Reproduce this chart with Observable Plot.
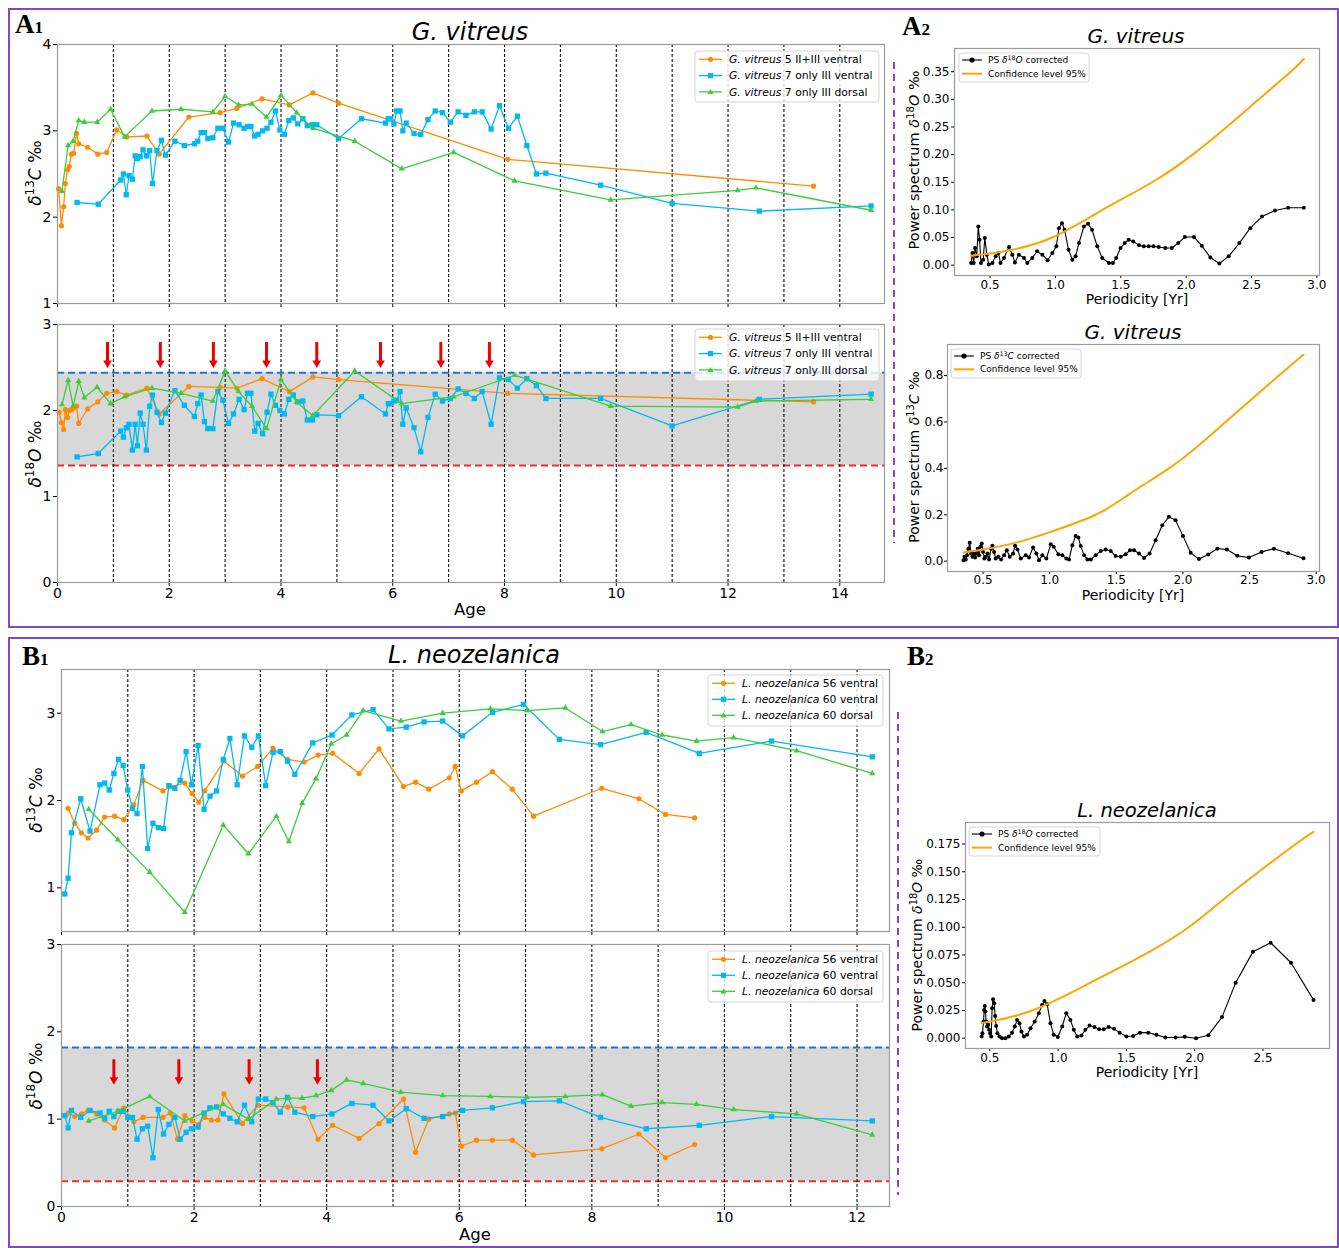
<!DOCTYPE html>
<html><head><meta charset="utf-8">
<script src="https://cdn.jsdelivr.net/npm/d3@7"></script>
<script src="https://cdn.jsdelivr.net/npm/@observablehq/plot@0.6"></script>
<style>
body{margin:0;background:#fff;}
#root{position:relative;width:1339px;height:1248px;overflow:hidden;background:#fff;}
</style></head><body><div id="root"></div>
<script>
// ---------------- DATA ----------------
// Panel A1: G. vitreus, delta13C
const gvC_orange = [[0.02,2.33],[0.07,1.90],[0.11,2.12],[0.14,2.39],[0.18,2.55],[0.21,2.59],[0.25,2.73],[0.29,2.74],[0.34,2.97],[0.38,2.85],[0.54,2.81],[0.72,2.73],[0.88,2.75],[1.06,3.01],[1.24,2.93],[1.60,2.94],[1.82,2.73],[2.35,3.16],[2.91,3.21],[3.21,3.26],[3.66,3.37],[4.15,3.30],[4.57,3.44],[5.03,3.32],[8.06,2.67],[13.53,2.36]];
const gvC_blue = [[0.35,2.17],[0.73,2.15],[1.13,2.43],[1.18,2.50],[1.23,2.26],[1.28,2.48],[1.34,2.44],[1.39,2.71],[1.43,2.68],[1.48,2.70],[1.53,2.78],[1.59,2.71],[1.65,2.77],[1.70,2.39],[1.78,2.77],[1.86,2.89],[1.93,2.72],[2.10,2.88],[2.27,2.83],[2.45,2.85],[2.51,2.88],[2.57,2.98],[2.63,2.98],[2.69,2.91],[2.78,2.92],[2.87,3.03],[2.96,3.03],[3.06,2.87],[3.15,3.09],[3.25,3.07],[3.34,3.03],[3.40,3.05],[3.46,3.05],[3.53,2.94],[3.59,2.96],[3.67,3.00],[3.75,3.03],[3.82,3.10],[3.90,3.23],[3.98,3.01],[4.06,2.96],[4.14,3.12],[4.22,3.15],[4.30,3.08],[4.39,3.14],[4.47,3.06],[4.56,3.07],[4.64,3.07],[5.03,2.91],[5.44,3.14],[5.87,3.09],[5.92,3.14],[5.96,3.14],[6.02,3.08],[6.07,3.23],[6.13,3.23],[6.18,3.00],[6.24,3.09],[6.38,2.97],[6.50,2.96],[6.63,3.13],[6.76,3.23],[6.89,3.21],[7.03,3.10],[7.17,3.22],[7.31,3.18],[7.46,3.22],[7.60,3.22],[7.76,3.02],[7.91,3.29],[8.07,3.03],[8.23,3.17],[8.40,2.83],[8.57,2.50],[8.74,2.51],[9.72,2.37],[11.0,2.16],[12.56,2.07],[14.56,2.13]];
const gvC_green = [[0.08,2.30],[0.19,2.83],[0.28,2.88],[0.38,3.12],[0.48,3.10],[0.71,3.10],[0.95,3.25],[1.20,2.93],[1.69,3.23],[2.21,3.25],[2.78,3.22],[3.00,3.40],[3.24,3.30],[3.48,3.31],[3.74,3.16],[4.00,3.41],[4.28,3.21],[4.57,3.03],[5.32,2.88],[6.16,2.56],[7.09,2.75],[8.18,2.42],[9.90,2.20],[12.17,2.31],[12.50,2.34],[14.56,2.08]];
// Panel A1: G. vitreus, delta18O
const gvO_orange = [[0.03,1.98],[0.07,1.86],[0.11,1.78],[0.14,2.01],[0.18,1.92],[0.21,2.00],[0.25,2.01],[0.29,2.03],[0.34,2.05],[0.38,1.85],[0.54,2.02],[0.72,2.10],[0.88,2.20],[1.06,2.22],[1.24,2.18],[1.60,2.26],[1.82,1.96],[2.35,2.28],[2.91,2.27],[3.21,2.26],[3.66,2.37],[4.15,2.22],[4.57,2.39],[5.03,2.36],[8.06,2.20],[13.53,2.10]];
const gvO_blue = [[0.35,1.46],[0.73,1.50],[1.13,1.76],[1.18,1.69],[1.23,1.80],[1.28,1.84],[1.34,1.54],[1.39,1.84],[1.43,1.59],[1.48,1.97],[1.53,1.84],[1.59,1.54],[1.65,2.05],[1.70,2.18],[1.78,1.98],[1.86,1.86],[1.93,1.97],[2.10,2.23],[2.27,2.06],[2.45,1.93],[2.51,2.08],[2.57,2.18],[2.63,1.87],[2.69,1.79],[2.78,1.79],[2.87,2.22],[2.96,2.12],[3.06,1.85],[3.15,1.96],[3.25,2.13],[3.34,2.01],[3.40,2.20],[3.46,2.20],[3.53,1.76],[3.59,1.85],[3.67,1.73],[3.75,1.98],[3.82,2.19],[3.90,2.06],[3.98,2.00],[4.06,1.96],[4.14,2.13],[4.22,2.18],[4.30,2.10],[4.39,2.11],[4.47,1.89],[4.56,1.89],[4.64,1.95],[5.03,1.94],[5.44,2.16],[5.87,1.96],[5.92,2.08],[5.96,2.08],[6.02,2.11],[6.07,2.12],[6.13,2.22],[6.18,1.84],[6.24,2.03],[6.38,1.80],[6.50,1.52],[6.63,1.92],[6.76,2.19],[6.89,2.11],[7.03,2.14],[7.17,2.25],[7.31,2.20],[7.46,2.14],[7.60,2.22],[7.76,1.84],[7.91,2.38],[8.07,2.36],[8.23,2.26],[8.40,2.37],[8.57,2.29],[8.74,2.14],[9.72,2.14],[11.0,1.82],[12.56,2.13],[14.56,2.19]];
const gvO_green = [[0.08,2.07],[0.19,2.35],[0.28,2.05],[0.38,2.34],[0.48,2.15],[0.71,2.27],[0.95,2.08],[1.20,2.16],[1.69,2.26],[2.21,2.20],[2.78,2.11],[3.00,2.46],[3.24,2.22],[3.48,2.05],[3.74,1.79],[4.00,2.36],[4.28,2.10],[4.57,1.94],[5.32,2.46],[6.16,2.08],[7.09,2.16],[8.18,2.41],[9.90,2.05],[12.17,2.04],[12.50,2.11],[14.56,2.13]];
// Panel B1: L. neozelanica, delta13C
const lnC_orange = [[0.10,1.91],[0.20,1.74],[0.30,1.63],[0.40,1.57],[0.53,1.66],[0.65,1.81],[0.80,1.82],[0.94,1.78],[1.09,1.95],[1.23,2.23],[1.53,2.11],[1.64,2.16],[1.86,2.20],[1.97,2.08],[2.07,1.98],[2.16,2.11],[2.45,2.45],[2.73,2.28],[2.96,2.39],[3.19,2.60],[3.41,2.47],[3.66,2.44],[3.87,2.52],[4.09,2.54],[4.49,2.31],[4.79,2.59],[5.16,2.16],[5.34,2.21],[5.54,2.13],[5.85,2.26],[5.94,2.39],[6.03,2.11],[6.26,2.21],[6.50,2.33],[6.80,2.13],[7.12,1.82],[8.15,2.14],[8.71,2.02],[9.11,1.84],[9.55,1.80]];
const lnC_blue = [[0.05,0.93],[0.10,1.11],[0.15,1.63],[0.29,2.02],[0.43,1.65],[0.58,2.18],[0.65,2.20],[0.72,2.12],[0.79,2.31],[0.86,2.47],[0.93,2.40],[1.00,2.12],[1.07,1.91],[1.14,1.85],[1.22,2.39],[1.30,1.45],[1.38,1.74],[1.46,1.69],[1.54,1.68],[1.62,2.17],[1.71,2.14],[1.79,2.23],[1.88,2.56],[1.96,2.18],[2.06,2.63],[2.15,1.90],[2.24,2.05],[2.34,2.11],[2.44,2.47],[2.54,2.71],[2.65,2.18],[2.76,2.74],[2.87,2.61],[2.97,2.74],[3.08,2.17],[3.19,2.55],[3.30,2.56],[3.41,2.45],[3.52,2.30],[3.79,2.66],[4.08,2.75],[4.38,2.98],[4.70,3.04],[4.94,2.82],[5.20,2.84],[5.47,2.90],[5.75,2.91],[6.05,2.74],[6.50,3.01],[6.97,3.10],[7.51,2.70],[8.13,2.64],[8.82,2.78],[9.62,2.54],[10.71,2.68],[12.23,2.50]];
const lnC_green = [[0.41,1.90],[0.85,1.55],[1.33,1.18],[1.86,0.72],[2.44,1.72],[2.82,1.39],[3.24,1.82],[3.43,1.53],[3.63,1.97],[3.84,2.25],[4.07,2.65],[4.30,2.75],[4.55,3.03],[5.12,2.91],[5.75,3.00],[6.47,3.05],[7.02,3.03],[7.60,3.06],[8.16,2.79],[8.59,2.87],[9.06,2.75],[9.58,2.68],[10.14,2.72],[11.09,2.57],[12.23,2.31]];
// Panel B1: L. neozelanica, delta18O
const lnO_orange = [[0.10,1.07],[0.20,1.03],[0.30,1.06],[0.40,1.10],[0.53,1.06],[0.65,0.99],[0.80,0.90],[0.94,1.13],[1.09,0.97],[1.23,1.02],[1.53,1.02],[1.64,1.07],[1.75,0.77],[1.86,1.04],[1.97,0.98],[2.07,0.94],[2.16,1.02],[2.26,0.99],[2.36,0.99],[2.45,1.29],[2.73,0.95],[2.96,1.16],[3.41,1.14],[3.66,1.13],[3.87,0.77],[4.09,0.93],[4.49,0.78],[4.79,0.95],[5.16,1.23],[5.34,0.62],[5.54,1.00],[5.85,1.06],[5.94,1.07],[6.03,0.69],[6.26,0.76],[6.50,0.76],[6.80,0.76],[7.12,0.59],[8.15,0.66],[8.71,0.83],[9.11,0.56],[9.55,0.71]];
const lnO_blue = [[0.05,1.04],[0.10,0.90],[0.15,1.10],[0.29,1.02],[0.43,1.10],[0.58,1.07],[0.65,1.01],[0.72,1.09],[0.79,1.03],[0.86,1.09],[0.93,1.09],[1.00,1.02],[1.07,1.02],[1.14,0.77],[1.22,0.89],[1.30,0.92],[1.38,0.56],[1.46,1.11],[1.54,0.83],[1.62,0.94],[1.71,1.02],[1.79,0.77],[1.88,0.85],[1.96,0.89],[2.06,0.91],[2.15,1.07],[2.24,1.13],[2.34,1.14],[2.44,1.06],[2.54,1.01],[2.65,0.97],[2.76,1.16],[2.87,0.97],[2.97,1.23],[3.08,1.23],[3.19,1.19],[3.30,1.08],[3.41,1.25],[3.52,1.08],[3.79,1.03],[4.08,1.06],[4.38,1.18],[4.70,1.16],[4.94,0.98],[5.20,1.12],[5.47,1.01],[5.75,1.03],[6.05,1.10],[6.50,1.13],[6.97,1.20],[7.51,1.21],[8.13,1.02],[8.82,0.89],[9.62,0.93],[10.71,1.03],[12.23,0.98]];
const lnO_green = [[0.41,0.98],[0.85,1.09],[1.33,1.26],[1.86,0.98],[2.44,1.17],[2.82,1.00],[3.24,1.23],[3.43,1.24],[3.63,1.24],[3.84,1.27],[4.07,1.33],[4.30,1.45],[4.55,1.41],[5.12,1.31],[5.75,1.27],[6.47,1.26],[7.02,1.25],[7.60,1.26],[8.16,1.28],[8.59,1.15],[9.06,1.19],[9.58,1.17],[10.14,1.11],[11.09,1.06],[12.23,0.82]];
// Power spectra
const psA_O18 = [[0.355,0.004],[0.365,0.022],[0.375,0.004],[0.385,0.031],[0.398,0.016],[0.41,0.070],[0.42,0.046],[0.43,0.004],[0.447,0.010],[0.46,0.049],[0.475,0.019],[0.49,0.001],[0.518,0.004],[0.543,0.016],[0.564,0.022],[0.58,0.004],[0.607,0.013],[0.645,0.033],[0.67,0.019],[0.69,0.005],[0.72,0.019],[0.76,0.013],[0.785,0.004],[0.823,0.013],[0.86,0.025],[0.90,0.019],[0.94,0.009],[0.976,0.022],[1.007,0.034],[1.027,0.067],[1.05,0.076],[1.07,0.064],[1.10,0.028],[1.13,0.010],[1.154,0.016],[1.18,0.040],[1.218,0.070],[1.25,0.075],[1.28,0.064],[1.32,0.034],[1.358,0.013],[1.41,0.004],[1.44,0.004],[1.465,0.013],[1.498,0.031],[1.53,0.040],[1.56,0.046],[1.595,0.043],[1.64,0.036],[1.676,0.034],[1.714,0.034],[1.75,0.034],[1.79,0.033],[1.84,0.031],[1.89,0.031],[1.94,0.040],[1.99,0.051],[2.06,0.051],[2.12,0.035],[2.185,0.014],[2.254,0.003],[2.325,0.016],[2.407,0.040],[2.49,0.067],[2.58,0.088],[2.68,0.099],[2.78,0.104],[2.90,0.104]];
const confA_O18 = [[0.355,0.017],[0.5,0.021],[0.67,0.028],[0.976,0.05],[1.36,0.10],[1.74,0.15],[2.05,0.20],[2.31,0.25],[2.555,0.30],[2.80,0.35],[2.90,0.373]];
const psA_C13 = [[0.353,0.004],[0.36,0.019],[0.37,0.007],[0.38,0.026],[0.39,0.054],[0.40,0.079],[0.41,0.033],[0.42,0.019],[0.43,0.033],[0.44,0.016],[0.45,0.033],[0.46,0.054],[0.47,0.026],[0.48,0.062],[0.49,0.076],[0.50,0.040],[0.51,0.011],[0.52,0.019],[0.533,0.033],[0.545,0.007],[0.56,0.054],[0.57,0.066],[0.583,0.040],[0.595,0.011],[0.615,0.019],[0.635,0.007],[0.658,0.026],[0.678,0.047],[0.70,0.019],[0.725,0.033],[0.74,0.066],[0.758,0.050],[0.783,0.011],[0.82,0.026],[0.845,0.016],[0.875,0.059],[0.90,0.033],[0.92,0.004],[0.945,0.026],[0.975,0.011],[1.008,0.073],[1.03,0.062],[1.065,0.030],[1.095,0.026],[1.125,0.011],[1.145,0.007],[1.17,0.069],[1.195,0.109],[1.215,0.102],[1.233,0.065],[1.258,0.026],[1.283,0.007],[1.308,0.007],[1.345,0.026],[1.383,0.044],[1.42,0.050],[1.458,0.044],[1.495,0.022],[1.533,0.019],[1.57,0.030],[1.603,0.047],[1.633,0.047],[1.67,0.033],[1.708,0.014],[1.75,0.033],[1.795,0.090],[1.845,0.155],[1.895,0.191],[1.945,0.176],[2.0,0.109],[2.058,0.036],[2.12,0.009],[2.19,0.029],[2.258,0.054],[2.33,0.050],[2.408,0.023],[2.495,0.016],[2.59,0.040],[2.683,0.054],[2.79,0.034],[2.905,0.013]];
const confA_C13 = [[0.353,0.037],[0.5,0.05],[0.75,0.08],[1.0,0.125],[1.345,0.2],[1.6,0.29],[1.895,0.4],[2.1,0.49],[2.32,0.6],[2.52,0.7],[2.72,0.8],[2.905,0.89]];
const psB_O18 = [[0.44,0.0015],[0.446,0.0045],[0.454,0.015],[0.459,0.0255],[0.463,0.029],[0.468,0.024],[0.473,0.015],[0.48,0.0105],[0.488,0.012],[0.495,0.0075],[0.502,0.0045],[0.51,0.0015],[0.517,0.027],[0.524,0.035],[0.532,0.0315],[0.539,0.020],[0.546,0.011],[0.556,0.0045],[0.571,0.0015],[0.59,0.0],[0.615,0.0],[0.639,0.0015],[0.663,0.005],[0.683,0.0105],[0.70,0.0165],[0.717,0.0135],[0.732,0.006],[0.749,0.0015],[0.773,0.003],[0.798,0.009],[0.829,0.015],[0.859,0.0225],[0.883,0.030],[0.90,0.0336],[0.92,0.0306],[0.944,0.0135],[0.968,0.003],[0.998,0.001],[1.03,0.0105],[1.06,0.0225],[1.09,0.0165],[1.115,0.0075],[1.14,0.0015],[1.17,0.0024],[1.20,0.0075],[1.23,0.0114],[1.266,0.010],[1.30,0.008],[1.334,0.008],[1.37,0.010],[1.41,0.0084],[1.45,0.005],[1.50,0.0015],[1.55,0.002],[1.60,0.005],[1.66,0.005],[1.72,0.003],[1.785,0.0006],[1.86,0.0006],[1.927,0.0012],[2.01,0.0],[2.10,0.0027],[2.20,0.019],[2.30,0.050],[2.427,0.078],[2.556,0.086],[2.705,0.068],[2.87,0.0345]];
const confB_O18 = [[0.44,0.0135],[0.5,0.015],[0.81,0.025],[1.237,0.05],[1.627,0.075],[1.956,0.1],[2.21,0.125],[2.47,0.15],[2.74,0.175],[2.87,0.186]];

// dashed age lines, arrows, bands, ticks
const ageLinesA = [1,2,3,4,5,6,7,8,9,10,11,12,13,14];
const ageLinesB = [1,2,3,4,5,6,7,8,9,10,11,12];
const arrowsA = [0.895,1.84,2.79,3.74,4.64,5.78,6.86,7.73];
const arrowA_top = 2.79, arrowA_tip = 2.50;
const arrowsB = [0.79,1.77,2.83,3.86];
const arrowB_top = 1.68, arrowB_tip = 1.40;
const bandA = [1.36, 2.44];
const bandB = [0.29, 1.82];
const ageTicksA = [0,2,4,6,8,10,12,14];
const ageTicksB = [0,2,4,6,8,10,12];
const yTicksA_C = [1,2,3,4];
const yTicksO = [0,1,2,3];
const yTicksB_C = [1,2,3];
const perTicks = [0.5,1.0,1.5,2.0,2.5,3.0];
const perTicksB = [0.5,1.0,1.5,2.0,2.5];
const psTicksA_O = [0,0.05,0.10,0.15,0.20,0.25,0.30,0.35];
const psTicksA_C = [0,0.2,0.4,0.6,0.8];
const psTicksB_O = [0,0.025,0.05,0.075,0.1,0.125,0.15,0.175];
const legendA = ["5 II+III ventral","7 only III ventral","7 only III dorsal"];
const legendB = ["56 ventral","60 ventral","60 dorsal"];

// ---------------- STYLE ----------------
const C_OR = "#ff8c00", C_BL = "#00b8f2", C_GR = "#3ccc3c";
const PURPLE = "#8448c6";
const root = document.getElementById("root");
const FONT = "DejaVu Sans, sans-serif";

function series(arr, color, symbol, r) {
  const d = arr.map(([x, y]) => ({x, y}));
  return [
    Plot.line(d, {x: "x", y: "y", stroke: color, strokeWidth: 1.3}),
    Plot.dot(d, {x: "x", y: "y", fill: color, symbol, r})
  ];
}
function psMarks(ps, conf) {
  const p = ps.map(([x, y]) => ({x, y})), c = conf.map(([x, y]) => ({x, y}));
  return [
    Plot.line(p, {x: "x", y: "y", stroke: "black", strokeWidth: 1.1}),
    Plot.dot(p, {x: "x", y: "y", fill: "black", r: 2}),
    Plot.line(c, {x: "x", y: "y", stroke: "#ffa500", strokeWidth: 2, curve: "natural"})
  ];
}
function arrowMarks(xs, top, tip) {
  const d = xs.map(x => ({x, top, tip}));
  return [
    Plot.ruleX(d, {x: "x", y1: "top", y2: "tip", stroke: "#ee0000", strokeWidth: 3, insetBottom: 5}),
    Plot.dot(d, {x: "x", y: "tip", symbol: "triangle", rotate: 180, fill: "#ee0000", r: 3.2, dy: -4.5})
  ];
}
function bandMarks(band) {
  return [
    Plot.rect([band], {y1: d => d[0], y2: d => d[1], fill: "#d8d8d8"}),
    Plot.ruleY([band[1]], {stroke: "#1f73d6", strokeWidth: 2, strokeDasharray: "7,4"}),
    Plot.ruleY([band[0]], {stroke: "#e8332c", strokeWidth: 2, strokeDasharray: "7,4"})
  ];
}
function chart(frame, o, marks) {
  const [x0, x1, y0, y1] = frame;
  const m = {top: 12, right: 12, bottom: 30, left: 60};
  const ts = o.ts ?? 4, tp = o.tp ?? 2;
  const svg = Plot.plot({
    width: x1 - x0 + m.left + m.right,
    height: y1 - y0 + m.top + m.bottom,
    marginTop: m.top, marginRight: m.right, marginBottom: m.bottom, marginLeft: m.left,
    style: {background: "none", overflow: "visible", fontFamily: FONT, fontSize: o.fs + "px", color: "black"},
    x: {domain: o.xDomain, ticks: o.xTicks, tickFormat: o.xFormat, label: null, tickSize: ts, tickPadding: tp},
    y: {domain: o.yDomain, ticks: o.yTicks, tickFormat: o.yFormat, label: null, tickSize: ts, tickPadding: tp},
    marks: [...marks, Plot.frame({stroke: "#9c9c9c", strokeWidth: 1.2})]
  });
  Object.assign(svg.style, {position: "absolute", left: (x0 - m.left) + "px", top: (y0 - m.top) + "px", maxWidth: "none"});
  root.appendChild(svg);
}
const blank = () => "";
const vlines = xs => Plot.ruleX(xs, {stroke: "#111", strokeWidth: 1.1, strokeDasharray: "3,2"});

// A1 top: delta13C
chart([57, 884, 44, 303], {fs: 14, xDomain: [0, 14.8], xTicks: ageTicksA, xFormat: blank, yDomain: [1, 4], yTicks: yTicksA_C, yFormat: d3.format("d")}, [
  vlines(ageLinesA),
  ...series(gvC_orange, C_OR, "circle", 2.6),
  ...series(gvC_blue, C_BL, "square", 3),
  ...series(gvC_green, C_GR, "triangle", 2.3)
]);
// A1 bottom: delta18O
chart([57, 884, 324, 582], {fs: 14, xDomain: [0, 14.8], xTicks: ageTicksA, xFormat: d3.format("d"), yDomain: [0, 3], yTicks: yTicksO, yFormat: d3.format("d")}, [
  ...bandMarks(bandA),
  vlines(ageLinesA),
  ...series(gvO_orange, C_OR, "circle", 2.6),
  ...series(gvO_blue, C_BL, "square", 3),
  ...series(gvO_green, C_GR, "triangle", 2.3),
  ...arrowMarks(arrowsA, arrowA_top, arrowA_tip)
]);
// A2 top
chart([954, 1319, 48, 275], {fs: 12, ts: 3, tp: 2, xDomain: [0.228, 3.02], xTicks: perTicks, xFormat: d3.format(".1f"), yDomain: [-0.0187, 0.392], yTicks: psTicksA_O, yFormat: d3.format(".2f")}, psMarks(psA_O18, confA_O18));
// A2 bottom
chart([947, 1319, 344, 571], {fs: 12, ts: 3, tp: 1, xDomain: [0.233, 3.025], xTicks: perTicks, xFormat: d3.format(".1f"), yDomain: [-0.0445, 0.934], yTicks: psTicksA_C, yFormat: d3.format(".1f")}, psMarks(psA_C13, confA_C13));
// B1 top
chart([61, 889, 669, 931], {fs: 14, xDomain: [0, 12.49], xTicks: ageTicksB, xFormat: blank, yDomain: [0.5, 3.5], yTicks: yTicksB_C, yFormat: d3.format("d")}, [
  vlines(ageLinesB),
  ...series(lnC_orange, C_OR, "circle", 2.6),
  ...series(lnC_blue, C_BL, "square", 3),
  ...series(lnC_green, C_GR, "triangle", 2.3)
]);
// B1 bottom
chart([61, 889, 944, 1206], {fs: 14, xDomain: [0, 12.49], xTicks: ageTicksB, xFormat: d3.format("d"), yDomain: [0, 3], yTicks: yTicksO, yFormat: d3.format("d")}, [
  ...bandMarks(bandB),
  vlines(ageLinesB),
  ...series(lnO_orange, C_OR, "circle", 2.6),
  ...series(lnO_blue, C_BL, "square", 3),
  ...series(lnO_green, C_GR, "triangle", 2.3),
  ...arrowMarks(arrowsB, arrowB_top, arrowB_tip)
]);
// B2
chart([965, 1329, 822, 1048], {fs: 12, ts: 3, tp: 2, xDomain: [0.322, 2.987], xTicks: perTicksB, xFormat: d3.format(".1f"), yDomain: [-0.0093, 0.1944], yTicks: psTicksB_O, yFormat: d3.format(".3f")}, psMarks(psB_O18, confB_O18));

// ---------------- OVERLAY (frames, titles, labels, legends) ----------------
const it = s => `<tspan font-style="italic">${s}</tspan>`;
const sup = s => `<tspan baseline-shift="super" font-size="70%">${s}</tspan>`;
const d13C = `${it("δ")}${sup("13")}${it("C")} ‰`;
const d18O = `${it("δ")}${sup("18")}${it("O")} ‰`;
let ov = `<svg xmlns="http://www.w3.org/2000/svg" width="1339" height="1248" style="position:absolute;left:0;top:0" font-family="DejaVu Sans, sans-serif">`;
ov += `<rect x="9" y="9" width="1329" height="618" fill="none" stroke="${PURPLE}" stroke-width="2"/>`;
ov += `<rect x="9" y="638" width="1329" height="609" fill="none" stroke="${PURPLE}" stroke-width="2"/>`;
ov += `<line x1="894" y1="62" x2="894" y2="543" stroke="${PURPLE}" stroke-width="2" stroke-dasharray="7,5"/>`;
ov += `<line x1="898" y1="712" x2="898" y2="1195" stroke="${PURPLE}" stroke-width="2" stroke-dasharray="7,5"/>`;
function txt(x, y, content, size, extra = "") {
  ov += `<text x="${x}" y="${y}" font-size="${size}" ${extra}>${content}</text>`;
}
function vtxt(x, y, content, size) {
  ov += `<text transform="translate(${x},${y}) rotate(-90)" text-anchor="middle" dy="0.35em" font-size="${size}">${content}</text>`;
}
// panel labels
const pl = (x, y, a, n) => txt(x, y, `${a}<tspan font-size="17">${n}</tspan>`, 27, `font-family="Liberation Serif, serif" font-weight="bold"`);
pl(15, 33, "A", "1"); pl(902, 35, "A", "2"); pl(22, 665, "B", "1"); pl(907, 665, "B", "2");
// titles
txt(470, 40, "G. vitreus", 24, `text-anchor="middle" font-style="italic"`);
txt(474, 663, "L. neozelanica", 24, `text-anchor="middle" font-style="italic"`);
txt(1136, 43, "G. vitreus", 20, `text-anchor="middle" font-style="italic"`);
txt(1133, 339, "G. vitreus", 20, `text-anchor="middle" font-style="italic"`);
txt(1147, 817, "L. neozelanica", 19.5, `text-anchor="middle" font-style="italic"`);
// axis labels
txt(470, 615, "Age", 16.5, `text-anchor="middle"`);
txt(475, 1240, "Age", 16.5, `text-anchor="middle"`);
txt(1137, 304, "Periodicity [Yr]", 14, `text-anchor="middle"`);
txt(1133, 600, "Periodicity [Yr]", 14, `text-anchor="middle"`);
txt(1147, 1077, "Periodicity [Yr]", 14, `text-anchor="middle"`);
vtxt(35, 173, d13C, 17);
vtxt(35, 454, d18O, 17);
vtxt(36, 800, d13C, 17);
vtxt(36, 1076, d18O, 17);
vtxt(914, 160, "Power spectrum " + d18O, 14.5);
vtxt(914, 457, "Power spectrum " + d13C, 14);
vtxt(917, 945, "Power spectrum " + d18O, 14);
// legends
function marker(sym, cx, cy, color) {
  if (sym === "circle") return `<circle cx="${cx}" cy="${cy}" r="2.6" fill="${color}"/>`;
  if (sym === "square") return `<rect x="${cx - 2.6}" y="${cy - 2.6}" width="5.2" height="5.2" fill="${color}"/>`;
  if (sym === "triangle") return `<path d="M${cx},${cy - 3}L${cx + 3},${cy + 2.2}L${cx - 3},${cy + 2.2}Z" fill="${color}"/>`;
  return "";
}
function legend(bx, by, bw, bh, rows, o) {
  ov += `<rect x="${bx}" y="${by}" width="${bw}" height="${bh}" rx="3" fill="white" fill-opacity="0.8" stroke="#d6d6d6"/>`;
  rows.forEach((r, i) => {
    const cy = by + o.y0 + i * o.dy;
    ov += `<line x1="${bx + o.l0}" x2="${bx + o.l1}" y1="${cy}" y2="${cy}" stroke="${r.color}" stroke-width="${r.w}"/>`;
    if (r.sym) ov += marker(r.sym, bx + (o.l0 + o.l1) / 2, cy, r.color);
    ov += `<text x="${bx + o.tx}" y="${cy}" dy="0.35em" font-size="${o.fs}">${r.label}</text>`;
  });
}
const syms = ["circle", "square", "triangle"], cols = [C_OR, C_BL, C_GR];
const rowsA = legendA.map((s, i) => ({color: cols[i], sym: syms[i], w: 1.3, label: `${it("G. vitreus")} ${s}`}));
const rowsB = legendB.map((s, i) => ({color: cols[i], sym: syms[i], w: 1.3, label: `${it("L. neozelanica")} ${s}`}));
const oA = {y0: 8.3, dy: 16.3, l0: 4, l1: 27, tx: 34, fs: 10.8};
legend(695, 51, 184, 51, rowsA, oA);
legend(695, 329, 184, 52, rowsA, oA);
legend(708, 675, 175, 51, rowsB, {y0: 8.3, dy: 16, l0: 4, l1: 27, tx: 34, fs: 10.8});
legend(708, 951, 175, 51, rowsB, {y0: 8.3, dy: 16, l0: 4, l1: 27, tx: 34, fs: 10.8});
const psRows = iso => [
  {color: "black", sym: "circle", w: 1.1, label: `PS ${it("δ")}${sup(iso[0])}${it(iso[1])} corrected`},
  {color: "#ffa500", sym: null, w: 2, label: "Confidence level 95%"}
];
legend(959, 53, 130, 29, psRows(["18", "O"]), {y0: 7, dy: 13.7, l0: 3, l1: 23, tx: 29, fs: 9});
legend(951, 349, 130, 29, psRows(["13", "C"]), {y0: 7, dy: 13.3, l0: 3, l1: 23, tx: 29, fs: 9});
legend(969, 827, 131, 29, psRows(["18", "O"]), {y0: 7, dy: 13.6, l0: 3, l1: 23, tx: 29, fs: 9});
ov += `</svg>`;
root.insertAdjacentHTML("beforeend", ov);
</script></body></html>
